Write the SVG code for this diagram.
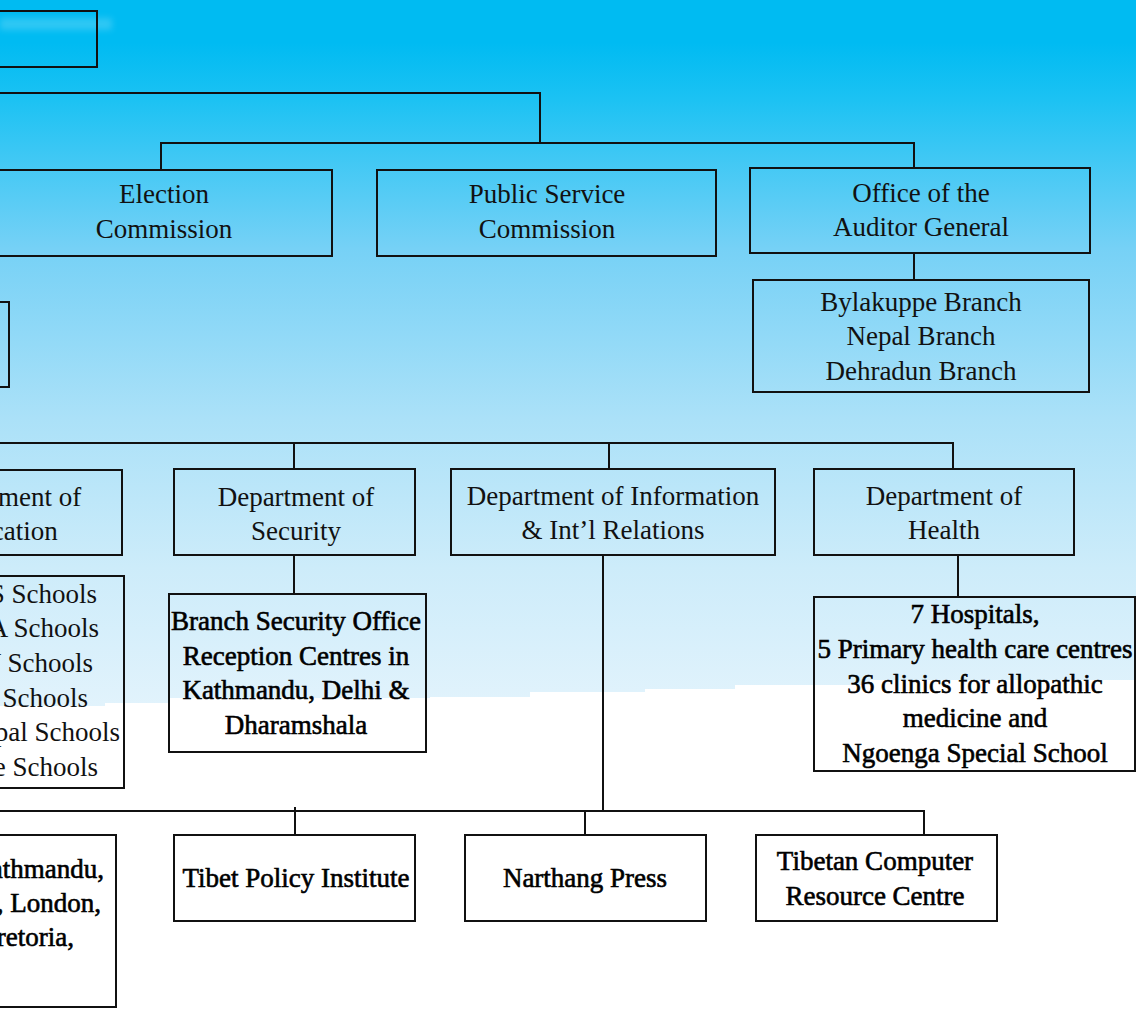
<svg xmlns="http://www.w3.org/2000/svg" width="1136" height="1012" viewBox="0 0 1136 1012">
<defs>
<linearGradient id="bg" gradientUnits="userSpaceOnUse" x1="0" y1="0" x2="0" y2="710">
<stop offset="0" stop-color="#00bbf2"/>
<stop offset="0.06" stop-color="#00bbf2"/>
<stop offset="0.14" stop-color="#1cc2f3"/>
<stop offset="0.35" stop-color="#76d1f6"/>
<stop offset="0.59" stop-color="#abe1f8"/>
<stop offset="0.8" stop-color="#cdecfa"/>
<stop offset="1" stop-color="#e2f3fc"/>
</linearGradient>
<filter id="blur" x="-20%" y="-50%" width="140%" height="200%"><feGaussianBlur stdDeviation="3"/></filter>
<style>
.box{fill:none;stroke:#111;stroke-width:2}
.ln{fill:none;stroke:#111;stroke-width:2}
text{font-family:"Liberation Serif","Times New Roman",serif;font-size:27px;fill:#111;text-anchor:middle}
.hv{stroke:#000;stroke-width:0.6;fill:#000}
.end{text-anchor:end}
</style>
</defs>
<rect width="1136" height="1012" fill="#fff"/>
<polygon fill="url(#bg)" points="0,0 1136,0 1136,680 870,680 870,685 735,685 735,689 645,689 645,692 530,692 530,697 430,697 430,698 170,698 170,703 105,703 105,706 0,706"/>
<rect x="0" y="18" width="112" height="12" fill="#ffffff" opacity="0.18" filter="url(#blur)"/>

<g id="connectors">
<path class="ln" d="M0 93 H540 V143"/>
<path class="ln" d="M161 170 V143 H914 V168"/>
<path class="ln" d="M914 253 V280"/>
<path class="ln" d="M0 443 H953 V469 M294 443 V469 M609 443 V469"/>
<path class="ln" d="M294 555 V594"/>
<path class="ln" d="M958 555 V597"/>
<path class="ln" d="M603 555 V811"/>
<path class="ln" d="M0 811 H924 V835 M295 807 V835 M585 811 V835"/>
</g>

<g id="node-top"><rect class="box" x="-20" y="11" width="117" height="56"/></g>
<g id="node-left-mid"><rect class="box" x="-20" y="302" width="29" height="85"/></g>

<g id="node-election">
<rect class="box" x="-4" y="170" width="336" height="86"/>
<text x="164" y="203">Election</text>
<text x="164" y="238">Commission</text>
</g>
<g id="node-public-service">
<rect class="box" x="377" y="170" width="339" height="86"/>
<text x="547" y="203">Public Service</text>
<text x="547" y="238">Commission</text>
</g>
<g id="node-auditor">
<rect class="box" x="750" y="168" width="340" height="85"/>
<text x="921" y="202">Office of the</text>
<text x="921" y="236">Auditor General</text>
</g>
<g id="node-branches">
<rect class="box" x="753" y="280" width="336" height="112"/>
<text x="921" y="311">Bylakuppe Branch</text>
<text x="921" y="345">Nepal Branch</text>
<text x="921" y="380">Dehradun Branch</text>
</g>

<g id="node-education">
<rect class="box" x="-120" y="470" width="242" height="85"/>
<text x="3" y="506">Department of</text>
<text x="3" y="540">Education</text>
</g>
<g id="node-security">
<rect class="box" x="174" y="469" width="241" height="86"/>
<text x="296" y="506">Department of</text>
<text x="296" y="540">Security</text>
</g>
<g id="node-info">
<rect class="box" x="451" y="469" width="324" height="86"/>
<text x="613" y="505">Department of Information</text>
<text x="613" y="539">&amp; Int’l Relations</text>
</g>
<g id="node-health">
<rect class="box" x="814" y="469" width="260" height="86"/>
<text x="944" y="505">Department of</text>
<text x="944" y="539">Health</text>
</g>

<g id="node-schools">
<rect class="box" x="-120" y="576" width="244" height="212"/>
<text class="end" x="97" y="603">S Schools</text>
<text class="end" x="99" y="637">A Schools</text>
<text class="end" x="93" y="672">V Schools</text>
<text class="end" x="88" y="707">Schools</text>
<text class="end" x="120" y="741">Nepal Schools</text>
<text class="end" x="98" y="776">e Schools</text>
</g>
<g id="node-security-offices">
<rect class="box" x="169" y="594" width="257" height="158"/>
<text class="hv" x="296" y="630">Branch Security Office</text>
<text class="hv" x="296" y="665">Reception Centres in</text>
<text class="hv" x="296" y="699">Kathmandu, Delhi &amp;</text>
<text class="hv" x="296" y="734">Dharamshala</text>
</g>
<g id="node-hospitals">
<rect class="box" x="814" y="597" width="321" height="174"/>
<text class="hv" x="975" y="623">7 Hospitals,</text>
<text class="hv" x="975" y="658">5 Primary health care centres</text>
<text class="hv" x="975" y="693">36 clinics for allopathic</text>
<text class="hv" x="975" y="727">medicine and</text>
<text class="hv" x="975" y="762">Ngoenga Special School</text>
</g>

<g id="node-offices">
<rect class="box" x="-120" y="835" width="236" height="172"/>
<text class="hv end" x="104" y="878">Kathmandu,</text>
<text class="hv end" x="101" y="912">, London,</text>
<text class="hv end" x="74" y="946">Pretoria,</text>
</g>
<g id="node-tpi">
<rect class="box" x="174" y="835" width="241" height="86"/>
<text class="hv" x="296" y="887">Tibet Policy Institute</text>
</g>
<g id="node-narthang">
<rect class="box" x="465" y="835" width="241" height="86"/>
<text class="hv" x="585" y="887">Narthang Press</text>
</g>
<g id="node-tcrc">
<rect class="box" x="756" y="835" width="241" height="86"/>
<text class="hv" x="875" y="870">Tibetan Computer</text>
<text class="hv" x="875" y="905">Resource Centre</text>
</g>
</svg>
